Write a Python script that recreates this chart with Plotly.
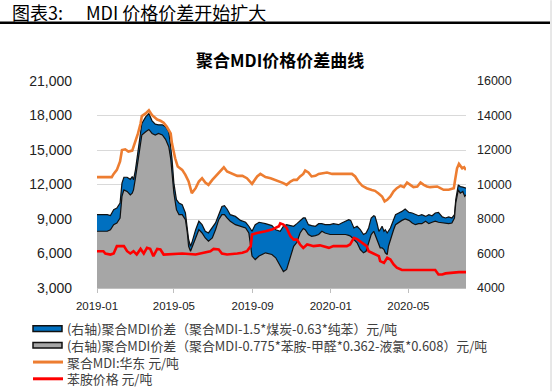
import plotly.graph_objects as go

# ---------------- data ----------------
area_dates = [
    "2019-01-01", "2019-01-17", "2019-01-22", "2019-01-27", "2019-02-01", "2019-02-06", "2019-02-09", "2019-02-12",
    "2019-02-17", "2019-02-22", "2019-02-25", "2019-02-27", "2019-03-02", "2019-03-06", "2019-03-10", "2019-03-12",
    "2019-03-18", "2019-03-23", "2019-03-28", "2019-04-02", "2019-04-07", "2019-04-13", "2019-04-18", "2019-04-23",
    "2019-04-26", "2019-04-28", "2019-05-01", "2019-05-05", "2019-05-09", "2019-05-14", "2019-05-19", "2019-05-22",
    "2019-05-24", "2019-05-27", "2019-05-29", "2019-06-04", "2019-06-09", "2019-06-14", "2019-06-19", "2019-06-24",
    "2019-06-30", "2019-07-05", "2019-07-10", "2019-07-15", "2019-07-19", "2019-07-23", "2019-07-28", "2019-08-05",
    "2019-08-13", "2019-08-21", "2019-08-26", "2019-08-31", "2019-09-05", "2019-09-11", "2019-09-21", "2019-10-01",
    "2019-10-07", "2019-10-14", "2019-10-19", "2019-10-24", "2019-10-30", "2019-11-04", "2019-11-09", "2019-11-14",
    "2019-11-19", "2019-11-22", "2019-11-27", "2019-12-02", "2019-12-08", "2019-12-13", "2019-12-18", "2019-12-23",
    "2019-12-31", "2020-01-05", "2020-01-13", "2020-01-18", "2020-01-24", "2020-01-29", "2020-02-01", "2020-02-06",
    "2020-02-11", "2020-02-16", "2020-02-21", "2020-02-25", "2020-02-29", "2020-03-04", "2020-03-08", "2020-03-10",
    "2020-03-13", "2020-03-16", "2020-03-18", "2020-03-21", "2020-03-24", "2020-03-26", "2020-03-29", "2020-03-31",
    "2020-04-03", "2020-04-06", "2020-04-08", "2020-04-11", "2020-04-16", "2020-04-21", "2020-04-26", "2020-05-02",
    "2020-05-07", "2020-05-12", "2020-05-17", "2020-05-22", "2020-05-28", "2020-06-02", "2020-06-07", "2020-06-12",
    "2020-06-17", "2020-06-23", "2020-06-28", "2020-07-03", "2020-07-08", "2020-07-12", "2020-07-14", "2020-07-18",
    "2020-07-21", "2020-07-25", "2020-07-28", "2020-07-30",
]
spread_coal = [
    8250, 8250, 8200, 8540, 8630, 8920, 10080, 10420,
    10420, 10300, 10460, 10270, 10850, 12000, 13060, 13540,
    13920, 14110, 13690, 13500, 13460, 13460, 13350, 13060,
    12190, 11520, 10080, 9120, 8920, 8830, 8350, 7580,
    6810, 6420, 6620, 7380, 7870, 7670, 7290, 7190,
    7480, 7770, 8250, 8730, 8770, 8580, 8250, 8150,
    7920, 7810, 7580, 7290, 7670, 7810, 7730, 7620,
    7380, 7290, 7580, 7670, 7620, 7580, 7730, 7920,
    8060, 8060, 7670, 7620, 7580, 7730, 7730, 7670,
    7670, 7730, 7670, 7770, 7870, 7960, 7920, 7480,
    7580, 7380, 7100, 7190, 7480, 8060, 8190, 8150,
    7770, 7290, 7380, 7580, 7290, 7380, 7190, 7290,
    7480, 7770, 7960, 8250, 8350, 8440, 8580, 8380,
    8350, 8250, 8190, 8250, 8150, 8250, 8190, 8350,
    8380, 8120, 8060, 8120, 8060, 8250, 9120, 9980,
    9880, 9850, 9790, 9790,
]
spread_aniline = [
    7290, 7290, 7380, 7670, 7770, 8060, 9310, 9690,
    9600, 9400, 9500, 9690, 10370, 11420, 12380, 12870,
    13060, 13190, 12960, 12870, 12960, 12870, 12620, 12190,
    11520, 10750, 9500, 8540, 8250, 8250, 7960, 7190,
    6420, 6130, 6330, 6900, 7380, 7190, 6900, 6710,
    6900, 7380, 7960, 8250, 8250, 8060, 7870, 7670,
    7580, 7480, 7190, 5850, 5650, 5850, 6040, 5940,
    5750, 5300, 4950, 5080, 5850, 6420, 6650, 7190,
    7450, 7380, 7100, 7000, 7040, 7100, 7290, 7190,
    7100, 7100, 7100, 7100, 7100, 7050, 7000, 6810,
    6620, 6230, 6040, 6130, 6620, 7100, 7290, 7100,
    6810, 6420, 6330, 6330, 6230, 6040, 5940, 6420,
    6810, 7190, 7380, 7670, 7810, 7920, 8000, 7920,
    7770, 7670, 7730, 7730, 7870, 7730, 7810, 7870,
    7810, 7770, 7730, 7730, 7770, 8060, 8920, 9690,
    9500, 9600, 9310, 9400,
]

mdi_dates = [
    "2019-01-01", "2019-01-24", "2019-01-27", "2019-02-01", "2019-02-06", "2019-02-09", "2019-02-14", "2019-02-19",
    "2019-02-25", "2019-03-02", "2019-03-06", "2019-03-10", "2019-03-12", "2019-03-18", "2019-03-23", "2019-03-28",
    "2019-04-02", "2019-04-05", "2019-04-10", "2019-04-15", "2019-04-20", "2019-04-26", "2019-04-28", "2019-05-03",
    "2019-05-07", "2019-05-14", "2019-05-19", "2019-05-24", "2019-05-29", "2019-06-04", "2019-06-09", "2019-06-14",
    "2019-06-19", "2019-06-24", "2019-06-30", "2019-07-07", "2019-07-13", "2019-07-18", "2019-07-23", "2019-07-31",
    "2019-08-08", "2019-08-16", "2019-08-23", "2019-08-31", "2019-09-08", "2019-09-13", "2019-09-21", "2019-09-29",
    "2019-10-07", "2019-10-14", "2019-10-19", "2019-10-24", "2019-10-30", "2019-11-04", "2019-11-09", "2019-11-14",
    "2019-11-19", "2019-11-22", "2019-11-27", "2019-12-02", "2019-12-08", "2019-12-13", "2019-12-21", "2019-12-26",
    "2020-01-03", "2020-01-16", "2020-01-26", "2020-02-03", "2020-02-08", "2020-02-13", "2020-02-19", "2020-02-26",
    "2020-03-05", "2020-03-10", "2020-03-16", "2020-03-21", "2020-03-25", "2020-03-29", "2020-04-03", "2020-04-08",
    "2020-04-13", "2020-04-19", "2020-04-24", "2020-04-29", "2020-05-04", "2020-05-09", "2020-05-15", "2020-05-20",
    "2020-05-25", "2020-05-30", "2020-06-04", "2020-06-10", "2020-06-15", "2020-06-20", "2020-06-25", "2020-07-03",
    "2020-07-11", "2020-07-13", "2020-07-16", "2020-07-19", "2020-07-21", "2020-07-24", "2020-07-27", "2020-07-30",
]
mdi_price = [
    12640, 12640, 12920, 13270, 14000, 15000, 15060, 14860,
    14950, 15720, 16440, 17300, 17950, 18180, 18460, 18030,
    17750, 17650, 17540, 17370, 17020, 16440, 15580, 14280,
    13560, 13270, 12840, 12260, 11250, 11680, 12260, 12550,
    12170, 11970, 12400, 12840, 13270, 13500, 13130, 12920,
    12750, 12750, 12550, 12060, 12700, 12920, 12640, 12550,
    12400, 12260, 12120, 11970, 12260, 12400, 12400, 12700,
    12920, 13210, 13050, 12700, 12760, 12920, 12980, 13040,
    12920, 12920, 12920, 12920, 12700, 12260, 11890, 11680,
    11530, 11450, 11200, 10960, 10530, 10670, 10960, 11400,
    11680, 11890, 11770, 12170, 11970, 11770, 11830, 12170,
    11970, 11830, 11770, 11770, 11830, 11680, 11540, 11540,
    11680, 12400, 13410, 13790, 13650, 13410, 13500, 13270,
]

aniline_dates = [
    "2019-01-01", "2019-01-11", "2019-01-14", "2019-01-22", "2019-01-27", "2019-02-01", "2019-02-12", "2019-02-17",
    "2019-02-22", "2019-02-27", "2019-03-04", "2019-03-10", "2019-03-15", "2019-03-20", "2019-03-25", "2019-03-30",
    "2019-04-05", "2019-04-10", "2019-04-15", "2019-05-14", "2019-06-04", "2019-06-11", "2019-06-19", "2019-06-27",
    "2019-07-02", "2019-07-10", "2019-07-15", "2019-07-23", "2019-08-08", "2019-08-16", "2019-08-23", "2019-08-29",
    "2019-08-31", "2019-09-08", "2019-09-21", "2019-10-01", "2019-10-12", "2019-10-14", "2019-10-19", "2019-10-24",
    "2019-10-30", "2019-11-04", "2019-11-09", "2019-11-14", "2019-11-19", "2019-11-25", "2019-11-30", "2019-12-05",
    "2019-12-15", "2019-12-21", "2019-12-29", "2020-01-05", "2020-01-26", "2020-01-31", "2020-02-06", "2020-02-11",
    "2020-02-16", "2020-02-21", "2020-02-26", "2020-02-29", "2020-03-05", "2020-03-10", "2020-03-16", "2020-03-18",
    "2020-03-24", "2020-03-29", "2020-04-03", "2020-04-08", "2020-04-13", "2020-04-21", "2020-06-12", "2020-06-17",
    "2020-06-23", "2020-06-28", "2020-07-08", "2020-07-19", "2020-07-30",
]
aniline_price = [
    6200, 6200, 6000, 5910, 6000, 6640, 6640, 6200,
    6000, 6200, 5910, 6400, 6000, 6500, 6400, 5770,
    6400, 6350, 5910, 6000, 5910, 6000, 6060, 6200,
    6400, 6350, 6000, 5910, 6000, 6060, 6200, 6640,
    7650, 7790, 7930, 8080, 8370, 8620, 8510, 8220,
    7500, 7210, 7210, 6780, 6490, 6780, 6710, 6640,
    6710, 6640, 6490, 6640, 6640, 6780, 7360, 7250,
    7070, 6850, 6640, 6200, 6060, 5910, 5770, 5340,
    5190, 5630, 5480, 5050, 4760, 4560, 4560, 4180,
    4180, 4270, 4330, 4380, 4380,
]

series_names = [
    "(右轴)聚合MDI价差（聚合MDI-1.5*煤炭-0.63*纯苯）元/吨",
    "(右轴)聚合MDI价差（聚合MDI-0.775*苯胺-甲醛*0.362-液氯*0.608）元/吨",
    "聚合MDI:华东 元/吨",
    "苯胺价格 元/吨",
]
header_label = "图表3:"
header_text = "MDI 价格价差开始扩大"
chart_title = "聚合MDI价格价差曲线"

# ---------------- style / layout ----------------
W, H = 553, 392
PL, PR, PT, PB = 97, 466, 81, 288.5          # plot area in window pixels
ML, MT, MR, MB = PL, PT, W - PR, H - PB
PW, PH = PR - PL, PB - PT

BLUE, GRAY, ORANGE, RED = "#0070C0", "#A6A6A6", "#ED7D31", "#FF0000"
CJK = "Noto Sans CJK SC"
NUM = "Liberation Sans, Arial, sans-serif"
LEG_FONT = 12.9                                # line pitch = 1.3 * size


def px_x(x):
    return (x - PL) / PW


def px_y(y):
    return 1 - (y - PT) / PH


fig = go.Figure()
fig.add_trace(go.Scatter(
    x=area_dates, y=spread_coal, name=series_names[0], mode="lines",
    fill="tozeroy", fillcolor=BLUE, line=dict(color="#111111", width=1.2),
    yaxis="y",
))
fig.add_trace(go.Scatter(
    x=area_dates, y=spread_aniline, name=series_names[1], mode="lines",
    fill="tozeroy", fillcolor=GRAY, line=dict(color="#111111", width=1.2),
    yaxis="y",
))
fig.add_trace(go.Scatter(
    x=mdi_dates, y=mdi_price, name=series_names[2], mode="lines",
    line=dict(color=ORANGE, width=2.6), yaxis="y2",
))
fig.add_trace(go.Scatter(
    x=aniline_dates, y=aniline_price, name=series_names[3], mode="lines",
    line=dict(color=RED, width=2.6), yaxis="y2",
))

# manual legend (plotly's legend rows are too tall and would push the margins)
leg_top = 329.2
leg_pitch = LEG_FONT * 1.3
legend_rows = [leg_top + i * leg_pitch for i in range(len(series_names))]
shapes = [
    dict(type="line", xref="paper", yref="paper",
         x0=px_x(0), x1=px_x(550), y0=px_y(22.5), y1=px_y(22.5),
         line=dict(color="#000000", width=2.5)),
    dict(type="line", xref="paper", yref="paper",
         x0=px_x(551), x1=px_x(551), y0=px_y(0), y1=px_y(392),
         line=dict(color="#D0D0D0", width=1)),
]
for yc, col in zip(legend_rows[:2], [BLUE, GRAY]):
    shapes.append(dict(type="rect", xref="paper", yref="paper",
                       x0=px_x(33), x1=px_x(62), y0=px_y(yc - 2.8), y1=px_y(yc + 2.8),
                       fillcolor=col, line=dict(color="#111111", width=1.5)))
for yc, col in zip(legend_rows[2:], [ORANGE, RED]):
    shapes.append(dict(type="line", xref="paper", yref="paper",
                       x0=px_x(33), x1=px_x(63), y0=px_y(yc), y1=px_y(yc),
                       line=dict(color=col, width=3)))

annotations = [
    dict(text=header_label, xref="paper", yref="paper", x=px_x(10), y=px_y(11.5),
         xanchor="left", yanchor="middle", showarrow=False,
         font=dict(family=CJK, size=18, color="#000000")),
    dict(text=header_text, xref="paper", yref="paper", x=px_x(84), y=px_y(11.5),
         xanchor="left", yanchor="middle", showarrow=False,
         font=dict(family=CJK, size=18, color="#000000")),
    dict(text="<b>" + chart_title + "</b>", xref="paper", yref="paper",
         x=px_x(280), y=px_y(59), xanchor="center", yanchor="middle", showarrow=False,
         font=dict(family=CJK, size=17, color="#000000")),
    dict(text="<br>".join(series_names), xref="paper", yref="paper",
         x=px_x(65), y=px_y((legend_rows[0] + legend_rows[-1]) / 2),
         xanchor="left", yanchor="middle", align="left", showarrow=False,
         font=dict(family=CJK, size=LEG_FONT, color="#404040")),
]

fig.update_layout(
    width=W, height=H,
    margin=dict(l=ML, r=MR, t=MT, b=MB, pad=0),
    paper_bgcolor="white", plot_bgcolor="white",
    showlegend=False,
    xaxis=dict(
        type="date", range=["2019-01-01", "2020-07-30"],
        tick0="2019-01-01", dtick="M4", tickformat="%Y-%m",
        showgrid=False, zeroline=False,
        showline=True, linecolor="#BFBFBF", linewidth=1,
        ticks="outside", ticklen=4, tickcolor="#BFBFBF", ticklabelstandoff=3,
        tickfont=dict(family=NUM, size=11.5, color="#222222"),
    ),
    yaxis=dict(
        side="right", range=[4000, 16000], dtick=2000, tickformat="d",
        showgrid=True, gridcolor="#D9D9D9", gridwidth=1, zeroline=False,
        showline=False, ticks="", ticklabelstandoff=10,
        tickfont=dict(family=NUM, size=12.5, color="#222222"),
    ),
    yaxis2=dict(
        side="left", overlaying="y", range=[3000, 21000], dtick=3000,
        tickformat=",d", showgrid=False, zeroline=False, showline=False,
        ticks="", ticklabelstandoff=24,
        tickfont=dict(family=NUM, size=14, color="#222222"),
    ),
    annotations=annotations,
    shapes=shapes,
)

# remove the default 8px page margin so the figure fills the window exactly
fig.write_html(
    "out.html",
    config={"displayModeBar": False},
    post_script="document.body.style.margin='0px';",
)
